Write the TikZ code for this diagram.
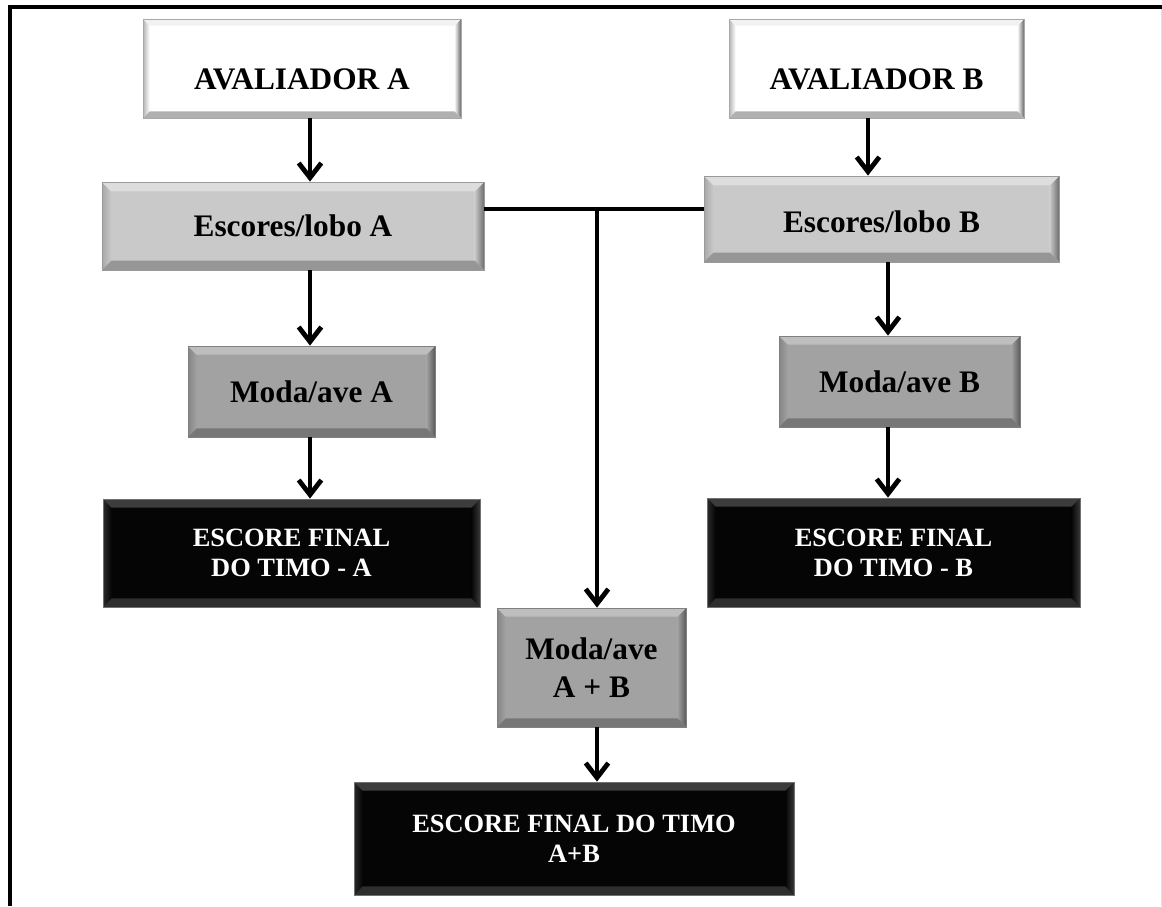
\documentclass[tikz,border=0pt]{standalone}
\usepackage{fontspec}
\setmainfont{Liberation Serif}
\usetikzlibrary{arrows.meta,calc}

% bevel palettes: face, top, left edge, right edge, bottom, rim
\definecolor{whFace}{HTML}{FFFFFF}
\definecolor{whTop}{HTML}{F2F2F2}
\definecolor{whLeft}{HTML}{B4B4B4}
\definecolor{whRight}{HTML}{6A6A6A}
\definecolor{whBot}{HTML}{B0B0B0}
\definecolor{whRim}{HTML}{A8A8A8}

\definecolor{ltFace}{HTML}{C9C9C9}
\definecolor{ltTop}{HTML}{DDDDDD}
\definecolor{ltLeft}{HTML}{A8A8A8}
\definecolor{ltRight}{HTML}{6E6E6E}
\definecolor{ltBot}{HTML}{969696}
\definecolor{ltRim}{HTML}{9A9A9A}

\definecolor{mdFace}{HTML}{A2A2A2}
\definecolor{mdTop}{HTML}{BEBEBE}
\definecolor{mdLeft}{HTML}{858585}
\definecolor{mdRight}{HTML}{5A5A5A}
\definecolor{mdBot}{HTML}{777777}
\definecolor{mdRim}{HTML}{808080}

\definecolor{dkFace}{HTML}{050505}
\definecolor{dkTop}{HTML}{3C3C3C}
\definecolor{dkLeft}{HTML}{2A2A2A}
\definecolor{dkRight}{HTML}{383838}
\definecolor{dkBot}{HTML}{2E2E2E}
\definecolor{dkRim}{HTML}{707070}

\tikzset{
  % #1 face, #2 top, #3 left, #4 right, #5 bottom, #6 rim, #7 bevel width
  bevelbox/.style n args={7}{
    rectangle, inner sep=0pt, align=center,
    fill=#1, draw=#6, line width=0.6pt,
    path picture={
      \coordinate (pnw) at (path picture bounding box.north west);
      \coordinate (pne) at (path picture bounding box.north east);
      \coordinate (psw) at (path picture bounding box.south west);
      \coordinate (pse) at (path picture bounding box.south east);
      \shade[left color=#3, right color=#1]
        (pnw) -- ([shift={(#7,-#7)}]pnw) -- ([shift={(#7,#7)}]psw) -- (psw) -- cycle;
      \shade[left color=#1, right color=#4]
        (pne) -- ([shift={(-#7,-#7)}]pne) -- ([shift={(-#7,#7)}]pse) -- (pse) -- cycle;
      \fill[#2]
        (pnw) -- (pne) -- ([shift={(-#7,-#7)}]pne) -- ([shift={(#7,-#7)}]pnw) -- cycle;
      \fill[#5]
        (psw) -- (pse) -- ([shift={(-#7,#7)}]pse) -- ([shift={(#7,#7)}]psw) -- cycle;
    }},
  whitebox/.style={bevelbox={whFace}{whTop}{whLeft}{whRight}{whBot}{whRim}{5pt},
    text=black, font=\bfseries\fontsize{23.5}{28.2}\selectfont},
  lightbox/.style={bevelbox={ltFace}{ltTop}{ltLeft}{ltRight}{ltBot}{ltRim}{7pt},
    text=black, font=\bfseries\fontsize{23.5}{28.2}\selectfont},
  midbox/.style={bevelbox={mdFace}{mdTop}{mdLeft}{mdRight}{mdBot}{mdRim}{6.5pt},
    text=black, font=\bfseries\fontsize{23.5}{28.2}\selectfont},
  darkbox/.style={bevelbox={dkFace}{dkTop}{dkLeft}{dkRight}{dkBot}{dkRim}{6.5pt},
    text=white, font=\bfseries\fontsize{19.8}{22.5}\selectfont},
  arr/.style={line width=3.6pt, -{Straight Barb[length=11pt,width=17pt]}},
  link/.style={line width=3.6pt},
}

\begin{document}
\begin{tikzpicture}[x=0.75pt, y=-0.75pt]
  \useasboundingbox (0,0) rectangle (1162,906);
  \fill[white] (0,0) rectangle (1162,906);

  % outer frame
  \draw[line width=3.6pt, line join=miter] (10,906) -- (10,7) -- (1162,7);
  \draw[line width=0.6pt, black!12] (1161,9) -- (1161,906);

  % evaluator A column
  \node[whitebox, minimum width=238.5pt, minimum height=74.25pt] (avA) at (302,68.5)
    {\raisebox{-7.9pt}[15.6pt][0pt]{AVALIADOR A}};
  \node[lightbox, minimum width=286.5pt, minimum height=66pt] (esA) at (293,226)
    {Escores/lobo A};
  \node[midbox, minimum width=185.25pt, minimum height=68.25pt] (moA) at (311.5,391.5)
    {Moda/ave A};
  \node[darkbox, minimum width=282.75pt, minimum height=81pt] (fiA) at (291.5,553)
    {ESCORE FINAL\\DO TIMO - A};

  % evaluator B column
  \node[whitebox, minimum width=221.25pt, minimum height=74.25pt] (avB) at (876.5,68.5)
    {\raisebox{-7.9pt}[15.6pt][0pt]{AVALIADOR B}};
  \node[lightbox, minimum width=266.25pt, minimum height=64.5pt] (esB) at (881.5,219)
    {\raisebox{-2pt}[15.6pt][0pt]{Escores/lobo B}};
  \node[midbox, minimum width=180.75pt, minimum height=68.25pt] (moB) at (899.5,381.5)
    {Moda/ave B};
  \node[darkbox, minimum width=279.75pt, minimum height=81.75pt] (fiB) at (893.5,552.5)
    {ESCORE FINAL\\DO TIMO - B};

  % combined column
  \node[midbox, minimum width=141.75pt, minimum height=89.25pt] (moAB) at (591.5,667.5)
    {Moda/ave\\A + B};
  \node[darkbox, minimum width=330pt, minimum height=84.75pt] (fiAB) at (574,838.5)
    {ESCORE FINAL DO TIMO\\A+B};

  % arrow columns
  \coordinate (cA) at (310,0);
  \coordinate (cB) at (868,0);
  \coordinate (cB2) at (888,0);
  \coordinate (J) at (597,209);

  \draw[arr] (avA.south -| cA) -- (esA.north -| cA);
  \draw[arr] (esA.south -| cA) -- (moA.north -| cA);
  \draw[arr] (moA.south -| cA) -- (fiA.north -| cA);

  \draw[arr] (avB.south -| cB) -- (esB.north -| cB);
  \draw[arr] (esB.south -| cB2) -- (moB.north -| cB2);
  \draw[arr] (moB.south -| cB2) -- (fiB.north -| cB2);

  % join of both score tables
  \draw[link] (esA.east |- J) -- (esB.west |- J);
  \draw[arr] ([yshift=1.8pt]J) -- (moAB.north -| J);
  \draw[arr] (moAB.south -| J) -- (fiAB.north -| J);
\end{tikzpicture}
\end{document}
